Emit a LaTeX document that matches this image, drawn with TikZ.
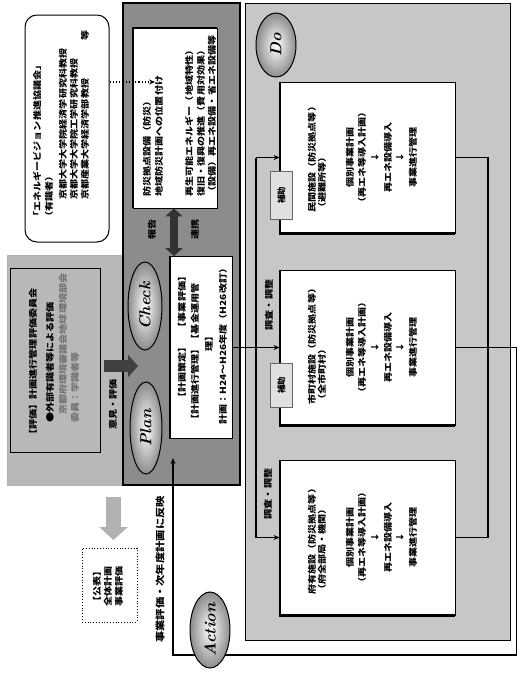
\documentclass[tikz,border=0pt]{standalone}
\usepackage{fontspec}
\newfontfamily\jp{Noto Sans CJK JP}
\usetikzlibrary{shapes.geometric,arrows.meta}
\begin{document}
\begin{tikzpicture}[x=1pt,y=-1pt,
 jt/.style={font=\jp\bfseries\fontsize{8.4}{10}\selectfont, rotate=90, xscale=1.2, inner sep=0pt},
 jw/.style={jt, anchor=west},
 jg/.style={jw, text=black!55},
 panel/.style={draw, line width=1.4pt, fill=black!45},
 wbox/.style={draw, line width=0.8pt, fill=white},
 conn/.style={line width=1.3pt},
 tip/.style={-{Stealth[length=6pt,width=5pt]}},
 ell/.style={ellipse, draw, line width=1pt, inner color=white, outer color=black!45, rotate=90, font=\bfseries\itshape\fontsize{16}{16}\selectfont, inner sep=0pt},
 tagbox/.style={draw=black!60, fill=black!12, line width=0.5pt, rotate=90, inner sep=0pt, font=\jp\bfseries\fontsize{8.4}{10}\selectfont}
]
\useasboundingbox (0,0) rectangle (518,675);
\fill[white] (0,0) rectangle (518,675);

% ---------- panels ----------
\node[draw=black!30, fill=black!28, minimum width=115pt, minimum height=230pt, inner sep=0pt] (ev) at (64.5,370) {};
\node[panel, minimum width=117pt, minimum height=482pt, inner sep=0pt] (pc) at (181.5,244) {};
\node[draw, line width=1pt, fill=black!22, minimum width=265pt, minimum height=637pt, inner sep=0pt] (dp) at (377.5,321.5) {};

% ---------- expert council ----------
\node[draw, line width=1pt, fill=white, rounded corners=12pt, minimum width=84pt, minimum height=227pt, inner sep=0pt] (exp) at (67,128.5) {};
\node[jw] (e1) at (37,222) {「エネルギービジョン推進協議会」};
\node[jw] (e2) at (49,222) {（有識者）};
\node[jw] (e3) at (63,200) {京都大学大学院経済学研究科教授};
\node[jw] (e4) at (74,200) {京都大学大学院工学研究科教授};
\node[jw] (e5) at (85,200) {京都産業大学経済学部教授};
\node[jt, anchor=east] (e6) at (85,30) {等};

% ---------- check box ----------
\node[wbox, minimum width=84pt, minimum height=180pt, inner sep=0pt] (ck) at (175,118) {};
\draw[line width=2.2pt] (ck.south west) -- (ck.north west) -- (ck.north east);
\node[jw] (c1) at (147,197) {防災拠点設備（防災）};
\node[jw] (c2) at (159,197) {地域防災計画への位置付け};
\node[jw] (c3) at (189,197) {再生可能エネルギー（地域特性）};
\node[jw] (c4) at (201,197) {復旧・復興の推進（費用対効果）};
\node[jw] (c5) at (212,197) {（設備）再エネ設備・省エネ設備等};
\coordinate (ckin) at (155,82);
\draw[line width=1.2pt, dotted, tip] (exp.east |- ckin) -- (ckin);

% ---------- plan box ----------
\node[wbox, minimum width=62pt, minimum height=182pt, inner sep=0pt] (pl) at (201,347.5) {};
\draw[line width=1.8pt] (pl.north west) -- (pl.south west);
\node[jw] (p1) at (182,403) {【計画策定】\hspace{1em}【事業評価】};
\node[jw] (p2) at (195,425) {【計画進行管理】【基金運用管};
\node[jw] (p3) at (209,352) {理】};
\node[jw] (p4) at (223,425) {計画：H24～H26年度（H26改訂）};

% double arrow
\coordinate (dax) at (174,0);
\draw[line width=8pt, black!80, {Triangle[width=17pt,length=8pt]}-{Triangle[width=17pt,length=8pt]}] (ck.south -| dax) -- (pl.north -| dax);
\node[jt] (l1) at (152,229) {報告};
\node[jt] (l2) at (195,229) {連携};

% ---------- evaluation box ----------
\node[draw, line width=0.6pt, minimum width=90pt, minimum height=184pt, inner sep=0pt] (evi) at (55,360) {};
\node[jw] (h1) at (33,440) {【評価】計画進行管理評価委員会};
\node[jw] (h2) at (50,423) {●外部有識者等による評価};
\node[jg] (h3) at (63,415) {京都府環境審議会地球環境部会};
\node[jg] (h4) at (75,423) {委員：学識者等};
\node[jw] (h5) at (113,430) {意見・評価};
\coordinate (evs) at (104,366);
\coordinate (evt) at (138,366);
\draw[line width=12pt, black!75, -{Triangle[width=22pt,length=10pt]}] (evs) -- (evt);

% ---------- publication ----------
\node[draw, dotted, line width=0.8pt, fill=white, minimum width=55pt, minimum height=74pt, inner sep=0pt] (pub) at (109.5,585) {};
\node[jw] (u1) at (97,607) {【公表】};
\node[jw] (u2) at (108,607) {全体計画};
\node[jw] (u3) at (119,607) {事業評価};
\coordinate (gas) at (113.5,497);
\coordinate (gae) at (113.5,540);
\draw[line width=15pt, black!30, -{Triangle[width=28pt,length=13pt]}] (gas) -- (gae);

\node[jw] (fb) at (160,643) {\fontsize{9.4}{10}\selectfont 事業評価・次年度計画に反映};

% ---------- Do boxes ----------
\node[wbox, minimum width=175pt, minimum height=151pt, inner sep=0pt] (b1) at (367.5,157.5) {};
\node[wbox, minimum width=175pt, minimum height=155pt, inner sep=0pt] (b2) at (367.5,347.5) {};
\node[wbox, minimum width=175pt, minimum height=155pt, inner sep=0pt] (b3) at (367.5,537.5) {};
\foreach \b in {b1,b2,b3}{\draw[line width=2.2pt] (\b.north west) -- (\b.south west) -- (\b.south east);}

\node[jw] (b1a) at (312,213) {民間施設（防災拠点等）};
\node[jw] (b1b) at (322,213) {（避難所等）};
\node[jw] (b2a) at (312,405) {市町村施設（防災拠点等）};
\node[jw] (b2b) at (322,405) {（全市町村）};
\node[jw] (b3a) at (312,595) {府有施設（防災拠点等）};
\node[jw] (b3b) at (322,595) {（府全部局・機関）};
\foreach \b/\yy in {1/157.5,2/347.5,3/537.5}{
 \node[jt] (s\b a) at (350,\yy) {個別事業計画};
 \node[jt] (s\b b) at (362,\yy) {（再エネ等導入計画）};
 \node[jt] (s\b c) at (375,\yy) {↓};
 \node[jt] (s\b d) at (388,\yy) {再エネ設備導入};
 \node[jt] (s\b e) at (400,\yy) {↓};
 \node[jt] (s\b f) at (413,\yy) {事業進行管理};
}

% ---------- connectors ----------
\coordinate (busL) at (256,0);
\coordinate (busR) at (488,0);
\coordinate (rc) at (516.5,655);
\coordinate (lc) at (173,655);
\coordinate (acttip) at (173,458);
\draw[conn, tip] (pl.east) -- (b2.west);
\draw[conn] (busL |- b1.west) -- (busL |- b3.west);
\draw[conn, tip] (busL |- b1.west) -- (b1.west);
\draw[conn, tip] (busL |- b3.west) -- (b3.west);
\draw[conn] (b1.east) -- (busR |- b1.east) -- (busR |- b3.east) -- (b3.east);
\draw[conn, tip] (b2.east) -- (rc |- b2.east) -- (rc) -- (lc) -- (acttip);

\node[tagbox, minimum width=48pt, minimum height=22pt] (t1) at (281.5,195) {補助};
\node[tagbox, minimum width=44pt, minimum height=22pt] (t2) at (281.5,385) {補助};
\node[jt] (z1) at (269,305) {調査・調整};
\node[jt] (z2) at (268,494) {調査・調整};

% ---------- ellipses ----------
\node[ell, minimum width=64pt, minimum height=40pt] (do) at (276,45) {Do};
\node[ell, minimum width=88pt, minimum height=34pt] (chk) at (145,306) {Check};
\node[ell, minimum width=92pt, minimum height=32pt] (pln) at (146,428) {Plan};
\node[ell, minimum width=76pt, minimum height=40pt] (act) at (210,630) {Action};
\end{tikzpicture}
\end{document}
